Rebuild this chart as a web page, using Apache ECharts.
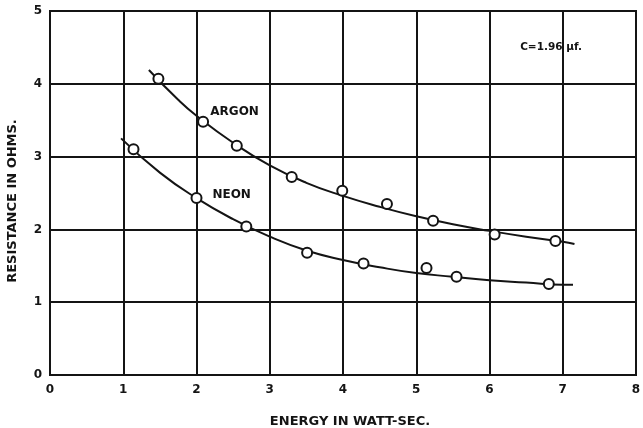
<!DOCTYPE html>
<html>
<head>
<meta charset="utf-8">
<style>
html,body{margin:0;padding:0;background:#fff;}
#chart{width:643px;height:428px;}
</style>
<script src="https://cdn.jsdelivr.net/npm/echarts@6/dist/echarts.min.js"></script>
</head>
<body>
<div id="chart"></div>
<script>
// Measured points (energy in watt-sec, resistance in ohms)
const argonPoints = [[1.48,4.07],[2.09,3.48],[2.55,3.15],[3.30,2.72],[3.99,2.53],[4.60,2.35],[5.23,2.12],[6.07,1.93],[6.90,1.84]];
const neonPoints  = [[1.14,3.10],[2.00,2.43],[2.68,2.04],[3.51,1.68],[4.28,1.53],[5.14,1.47],[5.55,1.35],[6.81,1.25]];
// Hand-drawn fitted curves
const argonCurve = [[1.35,4.19],[1.75,3.78],[2.0,3.56],[2.5,3.19],[3.0,2.88],[3.5,2.64],[4.0,2.46],[4.5,2.31],[5.0,2.18],[5.5,2.07],[6.0,1.98],[6.5,1.90],[7.0,1.83],[7.16,1.80]];
const neonCurve  = [[0.97,3.25],[1.5,2.78],[2.0,2.43],[2.5,2.14],[3.0,1.90],[3.5,1.71],[4.0,1.58],[4.5,1.48],[5.0,1.40],[5.5,1.35],[6.0,1.30],[6.5,1.27],[7.0,1.24],[7.14,1.24]];
const annotations = [
  {text:'ARGON', x:2.52, y:3.61, size:12},
  {text:'NEON', x:2.48, y:2.47, size:12},
  {text:'C=1.96 μf.', x:6.84, y:4.50, size:10.5}
];
const xTitle = 'ENERGY IN WATT-SEC.';
const yTitle = 'RESISTANCE IN OHMS.';
const xRange = [0, 8];
const yRange = [0, 5];

const ink = '#141414';
const font = '"DejaVu Sans", "Liberation Sans", Arial, sans-serif';

const chart = echarts.init(document.getElementById('chart'), null, {renderer:'canvas'});
const pointStyle = {color:'#fff', borderColor: ink, borderWidth: 2, opacity:1};
chart.setOption({
  backgroundColor:'#fff',
  animation:false,
  grid:{left:50, top:11, right:7, bottom:53, outerBoundsMode:'none', containLabel:false, show:true, borderColor:ink, borderWidth:2, backgroundColor:'transparent'},
  xAxis:{
    type:'value', min:xRange[0], max:xRange[1], interval:1,
    name:xTitle, nameLocation:'middle', nameGap:40,
    nameTextStyle:{color:ink, fontFamily:font, fontWeight:'bold', fontSize:13, padding:[0,0,0,14]},
    axisLine:{show:true, lineStyle:{color:ink, width:2}},
    axisTick:{show:false},
    axisLabel:{color:ink, fontFamily:font, fontWeight:'bold', fontSize:12, margin:9},
    splitLine:{show:true, lineStyle:{color:ink, width:2}}
  },
  yAxis:{
    type:'value', min:yRange[0], max:yRange[1], interval:1,
    name:yTitle, nameLocation:'middle', nameGap:31, nameRotate:90,
    nameTextStyle:{color:ink, fontFamily:font, fontWeight:'bold', fontSize:13, padding:[0,16,0,0]},
    axisLine:{show:true, lineStyle:{color:ink, width:2}},
    axisTick:{show:false},
    axisLabel:{color:ink, fontFamily:font, fontWeight:'bold', fontSize:12, margin:8},
    splitLine:{show:true, lineStyle:{color:ink, width:2}}
  },
  series:[
    {type:'line', data:argonCurve, smooth:true, showSymbol:false, lineStyle:{color:ink, width:2}, z:2},
    {type:'line', data:neonCurve, smooth:true, showSymbol:false, lineStyle:{color:ink, width:2}, z:2},
    {type:'scatter', data:argonPoints, symbol:'circle', symbolSize:10, itemStyle:pointStyle, z:3},
    {type:'scatter', data:neonPoints, symbol:'circle', symbolSize:10, itemStyle:pointStyle, z:3},
    {type:'scatter', symbolSize:0, z:4, itemStyle:{opacity:1},
      data:annotations.map(a=>({value:[a.x,a.y], label:{show:true, formatter:a.text, fontSize:a.size}})),
      label:{position:'inside', color:ink, fontFamily:font, fontWeight:'bold'}
    }
  ]
});
</script>
</body>
</html>
